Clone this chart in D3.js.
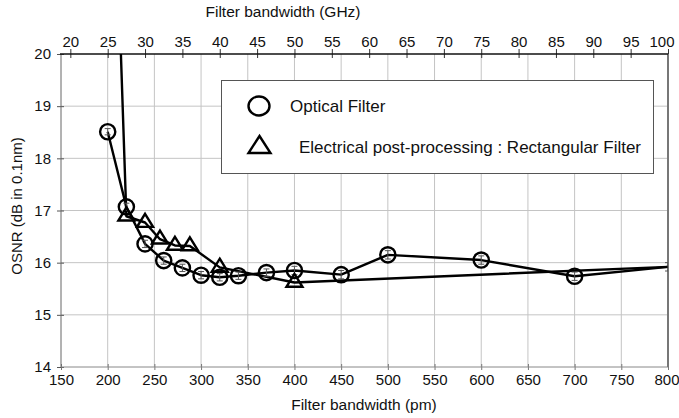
<!DOCTYPE html>
<meta charset="utf-8">
<style>
body { margin: 0; background: #fff; }
svg text { font-family: "Liberation Sans", Arial, sans-serif; fill: #111; }
.grid line { stroke: #c4c4c4; stroke-width: 1px; }
.series { fill: none; stroke: #000; stroke-width: 2.4px; stroke-linejoin: round; }
.mark { fill: none; stroke: #000; stroke-width: 2.4px; }
.err line { stroke: #555; stroke-width: 1px; }
</style>
<body>
<svg width="679" height="418"></svg>
<script src="https://d3js.org/d3.v7.min.js"></script>
<script>

// Optical filter (circles)
var optPm   = [200, 220, 240, 260, 280, 300, 320, 340, 370, 400, 450, 500, 600, 700, 800];
var optOsnr = [18.51, 17.07, 16.36, 16.04, 15.9, 15.76, 15.72, 15.75, 15.81, 15.85, 15.77, 16.15, 16.05, 15.74, 15.92];
var optErr  = [0.06, 0.07, 0.07, 0.07, 0.07, 0.07, 0.07, 0.07, 0.07, 0.08, 0.08, 0.08, 0.08, 0.08, 0.08];

// Electrical post-processing, rectangular filter (triangles); first point is off the chart
var elecPm   = [210, 220, 240, 256, 272, 288, 320, 400, 800];
var elecOsnr = [22.2, 16.89, 16.77, 16.45, 16.33, 16.32, 15.91, 15.62, 15.92];

var pmTicks   = [150, 200, 250, 300, 350, 400, 450, 500, 550, 600, 650, 700, 750, 800];
var ghzTicks  = [20, 25, 30, 35, 40, 45, 50, 55, 60, 65, 70, 75, 80, 85, 90, 95, 100];
var osnrTicks = [14, 15, 16, 17, 18, 19, 20];

var legendLabels = ["Optical Filter", "Electrical post-processing : Rectangular Filter"];

var svg = d3.select("svg");
var pl = 61, pr = 668, pt = 54, pb = 367;

var x = d3.scaleLinear().domain([150, 800]).range([pl, pr]);
var xGhz = d3.scaleLinear().domain([18.75, 100]).range([pl, pr]);
var y = d3.scaleLinear().domain([14, 20]).range([pb, pt]);

svg.append("defs").append("clipPath").attr("id", "plot")
  .append("rect").attr("x", pl).attr("y", pt).attr("width", pr - pl).attr("height", pb - pt);

// grid
var grid = svg.append("g").attr("class", "grid");
grid.selectAll(".v").data(pmTicks.slice(1, -1)).enter().append("line")
  .attr("x1", function(d) { return x(d); }).attr("x2", function(d) { return x(d); })
  .attr("y1", pt).attr("y2", pb);
grid.selectAll(".h").data(osnrTicks.slice(1, -1)).enter().append("line")
  .attr("y1", function(d) { return y(d); }).attr("y2", function(d) { return y(d); })
  .attr("x1", pl).attr("x2", pr);

// axes
function styleAxis(g, col) {
  g.select(".domain").remove();
  g.selectAll(".tick line").attr("stroke", col);
  g.selectAll(".tick text").style("font-size", "15px").attr("fill", "#111");
}

var gb = svg.append("g").attr("transform", "translate(0," + pb + ")")
  .call(d3.axisBottom(x).tickValues(pmTicks).tickFormat(d3.format("d")).tickSize(0).tickPadding(0));
styleAxis(gb, "#777");
gb.selectAll(".tick line").attr("y1", -3).attr("y2", 3);
gb.selectAll(".tick text").attr("y", 18).attr("dy", 0);
gb.selectAll(".tick text").filter(function(d) { return d === 800; })
  .attr("text-anchor", "end").attr("x", 11);

var gt = svg.append("g").attr("transform", "translate(0," + pt + ")")
  .call(d3.axisTop(xGhz).tickValues(ghzTicks).tickFormat(d3.format("d")).tickSize(0).tickPadding(0));
styleAxis(gt, "#333");
gt.selectAll(".tick line").attr("y1", -5).attr("y2", 4);
gt.selectAll(".tick text").attr("y", -7).attr("dy", 0);
gt.selectAll(".tick text").filter(function(d) { return d === 100; })
  .attr("text-anchor", "end").attr("x", 6);

var gl = svg.append("g").attr("transform", "translate(" + pl + ",0)")
  .call(d3.axisLeft(y).tickValues(osnrTicks).tickFormat(d3.format("d")).tickSize(0).tickPadding(0));
styleAxis(gl, "#555");
gl.selectAll(".tick line").attr("x1", -4).attr("x2", 3);
gl.selectAll(".tick text").attr("x", -10);

// frame
svg.append("line").attr("x1", pl).attr("x2", pl).attr("y1", pt).attr("y2", pb).attr("stroke", "#666");
svg.append("line").attr("x1", pl).attr("x2", pr).attr("y1", pb).attr("y2", pb).attr("stroke", "#888");
svg.append("line").attr("x1", pr).attr("x2", pr).attr("y1", pt).attr("y2", pb).attr("stroke", "#777").attr("stroke-width", 2);
svg.append("line").attr("x1", pl - 1).attr("x2", pr).attr("y1", pt).attr("y2", pt).attr("stroke", "#111").attr("stroke-width", 1.3);

// titles
svg.append("text").attr("x", 283).attr("y", 17).attr("text-anchor", "middle")
  .style("font-size", "15.5px").text("Filter bandwidth (GHz)");
svg.append("text").attr("x", 364).attr("y", 410).attr("text-anchor", "middle")
  .style("font-size", "15.5px").text("Filter bandwidth (pm)");
svg.append("text").attr("transform", "translate(22,206) rotate(-90)").attr("text-anchor", "middle")
  .style("font-size", "15px").text("OSNR (dB in 0.1nm)");

// legend box
var leg = svg.append("g");
leg.append("rect").attr("x", 221.5).attr("y", 80.5).attr("width", 432).attr("height", 93)
  .attr("fill", "#fff").attr("stroke", "#555");

var plot = svg.append("g").attr("clip-path", "url(#plot)");
var line = d3.line().x(function(d) { return x(d[0]); }).y(function(d) { return y(d[1]); });

var optData = optPm.map(function(p, i) { return [p, optOsnr[i], optErr[i]]; });
var elecData = elecPm.map(function(p, i) { return [p, elecOsnr[i]]; });

plot.append("path").attr("class", "series").attr("d", line(optData));
plot.append("path").attr("class", "series").attr("d", line(elecData));

// error bars
var err = plot.append("g").attr("class", "err").selectAll("g").data(optData).enter().append("g");
err.append("line")
  .attr("x1", function(d) { return x(d[0]); }).attr("x2", function(d) { return x(d[0]); })
  .attr("y1", function(d) { return y(d[1] - d[2]); }).attr("y2", function(d) { return y(d[1] + d[2]); });
err.append("line")
  .attr("x1", function(d) { return x(d[0]) - 3; }).attr("x2", function(d) { return x(d[0]) + 3; })
  .attr("y1", function(d) { return y(d[1] - d[2]); }).attr("y2", function(d) { return y(d[1] - d[2]); });
err.append("line")
  .attr("x1", function(d) { return x(d[0]) - 3; }).attr("x2", function(d) { return x(d[0]) + 3; })
  .attr("y1", function(d) { return y(d[1] + d[2]); }).attr("y2", function(d) { return y(d[1] + d[2]); });

function triPath(cx, cy, w, h) {
  return "M" + cx + "," + (cy - h * 2 / 3) + "L" + (cx + w / 2) + "," + (cy + h / 3) +
         "L" + (cx - w / 2) + "," + (cy + h / 3) + "Z";
}

// markers (no marker at the 800 pm end point)
plot.selectAll(".c").data(optData.slice(0, -1)).enter().append("circle")
  .attr("class", "mark").attr("cx", function(d) { return x(d[0]); }).attr("cy", function(d) { return y(d[1]); })
  .attr("r", 7.6);
plot.selectAll(".t").data(elecData.slice(1, -1)).enter().append("path")
  .attr("class", "mark").attr("d", function(d) { return triPath(x(d[0]), y(d[1]), 16, 13); });

// legend entries
leg.append("ellipse").attr("class", "mark").attr("cx", 259).attr("cy", 106).attr("rx", 10.5).attr("ry", 9.5);
leg.append("path").attr("class", "mark").attr("d", "M259.5,136L270.5,153L248.5,153Z");
leg.append("text").attr("x", 290).attr("y", 112).style("font-size", "17px").text(legendLabels[0]);
leg.append("text").attr("x", 299).attr("y", 153).style("font-size", "17px").text(legendLabels[1]);

</script>
</body>
